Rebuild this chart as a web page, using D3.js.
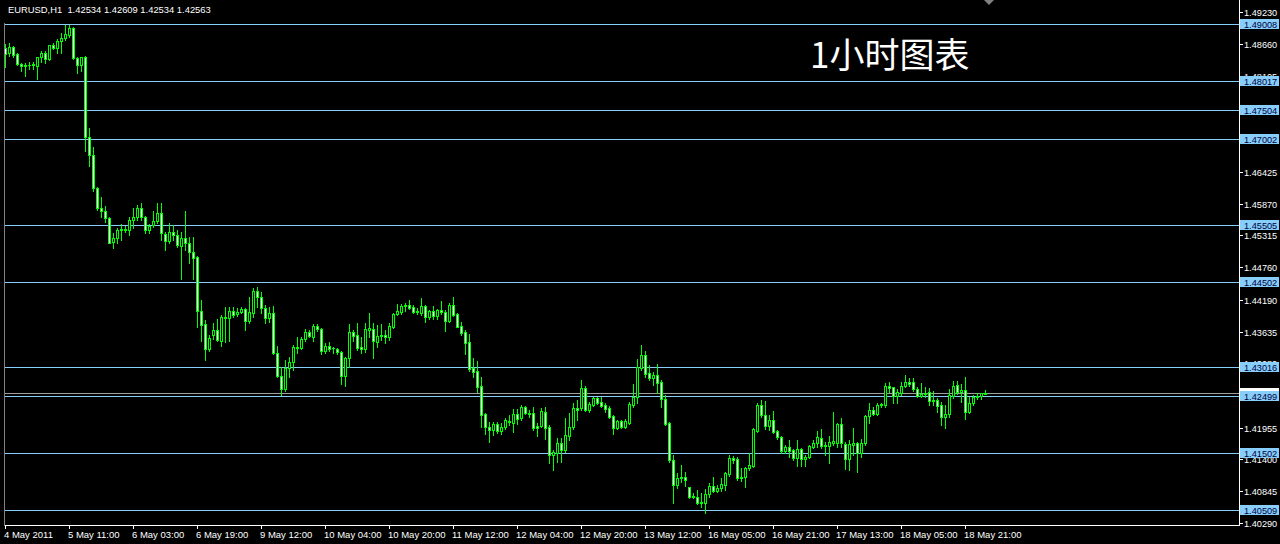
<!DOCTYPE html>
<html><head><meta charset="utf-8">
<script src="https://cdn.jsdelivr.net/npm/d3@7"></script>
<style>html,body{margin:0;padding:0;background:#000;}svg{display:block;}</style>
</head><body><svg id="c" width="1280" height="544"></svg>
<script>
const symbolTitle = "EURUSD,H1  1.42534 1.42609 1.42534 1.42563";
const chartTitle = "1小时图表";
const timeLabels = ["4 May 2011","5 May 11:00","6 May 03:00","6 May 19:00","9 May 12:00","10 May 04:00","10 May 20:00","11 May 12:00","12 May 04:00","12 May 20:00","13 May 12:00","16 May 05:00","16 May 21:00","17 May 13:00","18 May 05:00","18 May 21:00"];
const barsPerLabel = 16;
// price scale labels (the ones fully hidden behind level boxes are not shown in the reference)
const priceTicks = [1.49230,1.48660,1.48105,1.46425,1.45870,1.45315,1.44760,1.44190,1.43635,1.43080,1.41955,1.41400,1.40845,1.40290];
const levels = [1.49008,1.48017,1.47504,1.47002,1.45505,1.44502,1.43016,1.42499,1.41502,1.40509];
const bidPrice = 1.42563;

const opens = [1.4860,1.4851,1.4861,1.4849,1.4832,1.4828,1.4830,1.4830,1.4828,1.4844,
1.4851,1.4840,1.4865,1.4860,1.4872,1.4877,1.4882,1.4894,1.4842,1.4830,
1.4844,1.4704,1.4672,1.4615,1.4580,1.4574,1.4562,1.4520,1.4527,1.4541,
1.4541,1.4541,1.4559,1.4564,1.4580,1.4564,1.4541,1.4550,1.4557,1.4571,
1.4534,1.4522,1.4538,1.4532,1.4513,1.4527,1.4518,1.4503,1.4494,1.4399,
1.4377,1.4333,1.4357,1.4366,1.4347,1.4387,1.4387,1.4399,1.4394,1.4398,
1.4403,1.4382,1.4396,1.4434,1.4424,1.4405,1.4387,1.4396,1.4326,1.4286,
1.4263,1.4300,1.4310,1.4336,1.4335,1.4350,1.4363,1.4354,1.4373,1.4368,
1.4329,1.4338,1.4335,1.4333,1.4328,1.4286,1.4317,1.4363,1.4357,1.4336,
1.4333,1.4366,1.4368,1.4345,1.4356,1.4357,1.4354,1.4371,1.4394,1.4398,
1.4408,1.4410,1.4406,1.4398,1.4396,1.4408,1.4389,1.4399,1.4391,1.4401,
1.4398,1.4382,1.4410,1.4394,1.4373,1.4363,1.4345,1.4300,1.4294,1.4268,
1.4219,1.4196,1.4191,1.4202,1.4189,1.4196,1.4207,1.4203,1.4219,1.4212,
1.4231,1.4221,1.4221,1.4198,1.4198,1.4223,1.4196,1.4147,1.4151,1.4168,
1.4156,1.4181,1.4196,1.4230,1.4230,1.4265,1.4226,1.4235,1.4247,1.4240,
1.4235,1.4230,1.4216,1.4195,1.4207,1.4196,1.4203,1.4235,1.4249,1.4300,
1.4322,1.4291,1.4282,1.4287,1.4275,1.4245,1.4203,1.4139,1.4095,1.4107,
1.4109,1.4091,1.4074,1.4074,1.4063,1.4063,1.4079,1.4093,1.4084,1.4090,
1.4095,1.4114,1.4142,1.4140,1.4107,1.4109,1.4125,1.4128,1.4189,1.4235,
1.4217,1.4198,1.4209,1.4189,1.4179,1.4154,1.4161,1.4156,1.4142,1.4158,
1.4140,1.4144,1.4161,1.4168,1.4177,1.4163,1.4163,1.4168,1.4168,1.4202,
1.4167,1.4140,1.4165,1.4168,1.4151,1.4168,1.4216,1.4226,1.4219,1.4235,
1.4235,1.4268,1.4266,1.4251,1.4256,1.4268,1.4275,1.4275,1.4263,1.4251,
1.4256,1.4258,1.4244,1.4244,1.4235,1.4214,1.4219,1.4251,1.4270,1.4258,
1.4261,1.4223,1.4238,1.4249,1.4251,1.42534];
const highs = [1.4867,1.4868,1.4863,1.4851,1.4833,1.4833,1.4835,1.4835,1.4844,1.4854,
1.4854,1.4865,1.4868,1.4875,1.4886,1.4900,1.4900,1.4896,1.4844,1.4844,
1.4846,1.4720,1.4686,1.4616,1.4599,1.4583,1.4564,1.4536,1.4545,1.4552,
1.4548,1.4564,1.4580,1.4585,1.4588,1.4566,1.4552,1.4574,1.4588,1.4588,
1.4538,1.4553,1.4550,1.4541,1.4538,1.4574,1.4529,1.4529,1.4496,1.4419,
1.4384,1.4357,1.4378,1.4385,1.4392,1.4406,1.4406,1.4406,1.4405,1.4406,
1.4405,1.4424,1.4440,1.4441,1.4433,1.4410,1.4406,1.4408,1.4338,1.4301,
1.4314,1.4319,1.4340,1.4354,1.4354,1.4368,1.4366,1.4377,1.4377,1.4370,
1.4343,1.4345,1.4336,1.4335,1.4329,1.4319,1.4377,1.4366,1.4378,1.4354,
1.4378,1.4396,1.4378,1.4375,1.4377,1.4366,1.4378,1.4396,1.4412,1.4412,
1.4413,1.4419,1.4410,1.4405,1.4422,1.4410,1.4401,1.4408,1.4403,1.4417,
1.4401,1.4413,1.4424,1.4396,1.4380,1.4366,1.4359,1.4317,1.4312,1.4284,
1.4221,1.4205,1.4205,1.4205,1.4203,1.4212,1.4217,1.4228,1.4228,1.4235,
1.4233,1.4226,1.4231,1.4203,1.4230,1.4231,1.4200,1.4156,1.4177,1.4177,
1.4212,1.4221,1.4238,1.4244,1.4279,1.4268,1.4240,1.4249,1.4249,1.4249,
1.4238,1.4233,1.4217,1.4209,1.4209,1.4210,1.4240,1.4272,1.4315,1.4340,
1.4329,1.4305,1.4293,1.4307,1.4279,1.4252,1.4205,1.4147,1.4116,1.4130,
1.4118,1.4092,1.4081,1.4086,1.4081,1.4088,1.4098,1.4109,1.4095,1.4107,
1.4118,1.4147,1.4146,1.4144,1.4125,1.4126,1.4151,1.4195,1.4238,1.4244,
1.4242,1.4217,1.4224,1.4191,1.4181,1.4165,1.4174,1.4158,1.4174,1.4160,
1.4147,1.4165,1.4174,1.4189,1.4193,1.4170,1.4181,1.4223,1.4203,1.4212,
1.4170,1.4174,1.4195,1.4170,1.4175,1.4217,1.4238,1.4231,1.4238,1.4238,
1.4273,1.4275,1.4267,1.4263,1.4275,1.4287,1.4282,1.4282,1.4266,1.4273,
1.4266,1.4265,1.4259,1.4247,1.4240,1.4235,1.4263,1.4277,1.4277,1.4272,
1.4284,1.4249,1.4252,1.4256,1.4256,1.42609];
const lows = [1.4826,1.4846,1.4844,1.4830,1.4819,1.4811,1.4823,1.4823,1.4805,1.4835,
1.4833,1.4839,1.4858,1.4851,1.4851,1.4874,1.4879,1.4840,1.4816,1.4819,
1.4679,1.4653,1.4609,1.4576,1.4564,1.4555,1.4518,1.4510,1.4518,1.4524,
1.4538,1.4532,1.4545,1.4559,1.4559,1.4536,1.4536,1.4546,1.4553,1.4524,
1.4506,1.4518,1.4524,1.4511,1.4455,1.4506,1.4483,1.4455,1.4371,1.4347,
1.4314,1.4329,1.4350,1.4347,1.4338,1.4345,1.4347,1.4389,1.4391,1.4396,
1.4366,1.4378,1.4389,1.4406,1.4396,1.4378,1.4380,1.4324,1.4284,1.4252,
1.4259,1.4284,1.4296,1.4326,1.4333,1.4347,1.4354,1.4347,1.4364,1.4324,
1.4326,1.4329,1.4326,1.4324,1.4272,1.4268,1.4301,1.4347,1.4331,1.4326,
1.4328,1.4354,1.4317,1.4336,1.4349,1.4343,1.4349,1.4370,1.4392,1.4394,
1.4399,1.4403,1.4396,1.4394,1.4392,1.4380,1.4385,1.4385,1.4385,1.4394,
1.4364,1.4380,1.4391,1.4371,1.4357,1.4324,1.4294,1.4284,1.4258,1.4196,
1.4184,1.4170,1.4182,1.4186,1.4184,1.4193,1.4200,1.4188,1.4202,1.4209,
1.4219,1.4214,1.4191,1.4181,1.4196,1.4175,1.4133,1.4121,1.4135,1.4135,
1.4153,1.4174,1.4193,1.4209,1.4226,1.4224,1.4223,1.4233,1.4237,1.4231,
1.4223,1.4212,1.4184,1.4193,1.4195,1.4195,1.4202,1.4231,1.4238,1.4296,
1.4284,1.4279,1.4270,1.4256,1.4231,1.4200,1.4135,1.4063,1.4090,1.4100,
1.4093,1.4073,1.4072,1.4062,1.4056,1.4046,1.4074,1.4083,1.4083,1.4084,
1.4086,1.4111,1.4133,1.4104,1.4102,1.4091,1.4121,1.4126,1.4188,1.4214,
1.4193,1.4191,1.4186,1.4175,1.4151,1.4151,1.4144,1.4139,1.4128,1.4128,
1.4128,1.4142,1.4160,1.4161,1.4160,1.4147,1.4133,1.4165,1.4161,1.4161,
1.4123,1.4121,1.4147,1.4118,1.4144,1.4165,1.4203,1.4217,1.4217,1.4231,
1.4231,1.4258,1.4238,1.4238,1.4252,1.4266,1.4268,1.4259,1.4249,1.4249,
1.4249,1.4235,1.4235,1.4223,1.4200,1.4195,1.4214,1.4247,1.4254,1.4240,
1.4210,1.4221,1.4235,1.4245,1.4245,1.42534];
const closes = [1.4849,1.4861,1.4847,1.4832,1.4828,1.4830,1.4830,1.4832,1.4844,1.4851,
1.4840,1.4865,1.4860,1.4872,1.4877,1.4884,1.4894,1.4842,1.4830,1.4844,
1.4704,1.4672,1.4615,1.4580,1.4574,1.4562,1.4518,1.4527,1.4541,1.4542,
1.4543,1.4559,1.4564,1.4580,1.4564,1.4541,1.4548,1.4557,1.4571,1.4536,
1.4522,1.4538,1.4532,1.4515,1.4527,1.4518,1.4503,1.4492,1.4399,1.4375,
1.4333,1.4352,1.4366,1.4348,1.4389,1.4389,1.4399,1.4392,1.4398,1.4403,
1.4382,1.4398,1.4434,1.4424,1.4405,1.4387,1.4396,1.4326,1.4286,1.4263,
1.4300,1.4310,1.4336,1.4335,1.4350,1.4363,1.4355,1.4373,1.4368,1.4329,
1.4338,1.4333,1.4334,1.4328,1.4286,1.4317,1.4363,1.4356,1.4335,1.4333,
1.4368,1.4370,1.4347,1.4356,1.4357,1.4354,1.4373,1.4394,1.4399,1.4408,
1.4410,1.4405,1.4398,1.4399,1.4408,1.4389,1.4399,1.4391,1.4401,1.4398,
1.4382,1.4410,1.4392,1.4372,1.4361,1.4343,1.4298,1.4293,1.4266,1.4217,
1.4196,1.4191,1.4202,1.4189,1.4196,1.4209,1.4205,1.4219,1.4210,1.4231,
1.4221,1.4220,1.4195,1.4195,1.4224,1.4195,1.4147,1.4153,1.4168,1.4156,
1.4182,1.4196,1.4230,1.4226,1.4265,1.4226,1.4237,1.4247,1.4238,1.4233,
1.4228,1.4214,1.4195,1.4207,1.4196,1.4207,1.4237,1.4249,1.4301,1.4322,
1.4289,1.4282,1.4287,1.4273,1.4245,1.4202,1.4139,1.4095,1.4107,1.4109,
1.4104,1.4074,1.4076,1.4063,1.4065,1.4079,1.4093,1.4084,1.4090,1.4097,
1.4116,1.4142,1.4139,1.4107,1.4109,1.4125,1.4130,1.4193,1.4235,1.4217,
1.4198,1.4209,1.4188,1.4179,1.4154,1.4161,1.4154,1.4142,1.4158,1.4140,
1.4144,1.4163,1.4168,1.4179,1.4163,1.4165,1.4170,1.4172,1.4202,1.4168,
1.4140,1.4167,1.4168,1.4151,1.4168,1.4216,1.4226,1.4219,1.4235,1.4237,
1.4268,1.4265,1.4251,1.4258,1.4268,1.4275,1.4272,1.4263,1.4251,1.4254,
1.4254,1.4242,1.4242,1.4233,1.4214,1.4219,1.4252,1.4268,1.4258,1.4261,
1.4223,1.4238,1.4249,1.4251,1.4256,1.42563];

const N = closes.length;
const bars = d3.range(N).map(i => ({i, o: opens[i], h: highs[i], l: lows[i], c: closes[i]}));

const svg = d3.select("#c");
const FONT = "'Liberation Sans', Arial, sans-serif";
const plotRight = 1239, plotBottom = 525;

const x = d3.scaleLinear().domain([0, N - 1]).range([5, 5 + 4 * (N - 1)]);
const y = d3.scaleLinear().domain([1.40290, 1.49230]).range([522.7, 11.7]);
const py = v => Math.round(y(v));

svg.append("rect").attr("width", 1280).attr("height", 544).attr("fill", "#000");

// level lines
svg.append("g").selectAll("line").data(levels).join("line")
  .attr("x1", 4).attr("x2", plotRight)
  .attr("y1", d => py(d) + 0.5).attr("y2", d => py(d) + 0.5)
  .attr("stroke", "#87CEFA").attr("stroke-width", 1).attr("shape-rendering", "crispEdges");
// bid line
svg.append("line").attr("x1", 4).attr("x2", plotRight)
  .attr("y1", py(bidPrice) + 0.5).attr("y2", py(bidPrice) + 0.5)
  .attr("stroke", "#A0A0A0").attr("shape-rendering", "crispEdges");

// candles
const g = svg.append("g").attr("shape-rendering", "crispEdges");
g.selectAll("line.wick").data(bars).join("line").attr("class", "wick")
  .attr("x1", d => Math.round(x(d.i)) + 0.5).attr("x2", d => Math.round(x(d.i)) + 0.5)
  .attr("y1", d => py(d.h)).attr("y2", d => py(d.l) + 1)
  .attr("stroke", "#00FF00");
g.selectAll("rect.body").data(bars).join("rect").attr("class", "body")
  .attr("x", d => Math.round(x(d.i)) - 1)
  .attr("y", d => Math.min(py(d.o), py(d.c)))
  .attr("width", 3)
  .attr("height", d => Math.abs(py(d.o) - py(d.c)) + 1)
  .attr("fill", "#00FF00");
g.selectAll("rect.inner").data(bars.filter(d => Math.abs(py(d.o) - py(d.c)) >= 2)).join("rect").attr("class", "inner")
  .attr("x", d => Math.round(x(d.i)))
  .attr("y", d => Math.min(py(d.o), py(d.c)) + 1)
  .attr("width", 1)
  .attr("height", d => Math.abs(py(d.o) - py(d.c)) - 1)
  .attr("fill", d => d.c < d.o ? "#FFFFFF" : "#000000");

// frame
svg.append("line").attr("x1", plotRight + 0.5).attr("x2", plotRight + 0.5).attr("y1", 0).attr("y2", plotBottom + 1)
  .attr("stroke", "#fff").attr("shape-rendering", "crispEdges");
svg.append("line").attr("x1", 4).attr("x2", plotRight + 1).attr("y1", plotBottom + 0.5).attr("y2", plotBottom + 0.5)
  .attr("stroke", "#fff").attr("shape-rendering", "crispEdges");
svg.append("line").attr("x1", 4.5).attr("x2", 4.5).attr("y1", 23).attr("y2", plotBottom + 1)
  .attr("stroke", "#808080").attr("shape-rendering", "crispEdges");

// price axis ticks and labels
const ya = svg.append("g");
ya.selectAll("line").data(priceTicks).join("line")
  .attr("x1", plotRight).attr("x2", plotRight + 4)
  .attr("y1", d => py(d) + 0.5).attr("y2", d => py(d) + 0.5)
  .attr("stroke", "#fff").attr("shape-rendering", "crispEdges");
ya.selectAll("text").data(priceTicks).join("text")
  .attr("x", 1244).attr("y", d => py(d) + 4)
  .attr("fill", "#fff").attr("font-family", FONT).attr("font-size", 9.2)
  .text(d => d.toFixed(5));

// bid label (white) then level labels (light blue)
const bl = svg.append("g");
bl.append("rect").attr("x", 1240).attr("y", py(bidPrice) - 5).attr("width", 39).attr("height", 10).attr("fill", "#fff");
bl.append("text").attr("x", 1244).attr("y", py(bidPrice) + 4).attr("fill", "#000")
  .attr("font-family", FONT).attr("font-size", 9.2).text(bidPrice.toFixed(5));
const lv = svg.append("g").selectAll("g").data(levels).join("g");
lv.append("rect").attr("x", 1240).attr("y", d => py(d) - 5).attr("width", 39).attr("height", 10).attr("fill", "#87CEFA");
lv.append("text").attr("x", 1244).attr("y", d => py(d) + 4).attr("fill", "#000040")
  .attr("font-family", FONT).attr("font-size", 9.2).text(d => d.toFixed(5));

// time axis
const tickIdx = timeLabels.map((t, k) => k * barsPerLabel);
const xa = svg.append("g");
xa.selectAll("line").data(tickIdx).join("line")
  .attr("x1", d => Math.round(x(d)) + 0.5).attr("x2", d => Math.round(x(d)) + 0.5)
  .attr("y1", plotBottom).attr("y2", plotBottom + 4)
  .attr("stroke", "#fff").attr("shape-rendering", "crispEdges");
xa.selectAll("text").data(tickIdx).join("text")
  .attr("x", d => Math.round(x(d)) - 1).attr("y", 538)
  .attr("fill", "#fff").attr("font-family", FONT).attr("font-size", 9.5)
  .text((d, k) => timeLabels[k]);

// header and title
svg.append("text").attr("x", 8).attr("y", 13).attr("fill", "#fff")
  .attr("font-family", FONT).attr("font-size", 9.4).attr("xml:space", "preserve")
  .style("white-space", "pre").text(symbolTitle);
svg.append("text").attr("x", 810).attr("y", 68).attr("fill", "#fff")
  .attr("font-family", "'Noto Sans CJK SC', sans-serif").attr("font-size", 35)
  .text(chartTitle);
// chart shift marker
svg.append("path").attr("d", "M984,0 L994,0 L989,5 Z").attr("fill", "#808080");
</script></body></html>
